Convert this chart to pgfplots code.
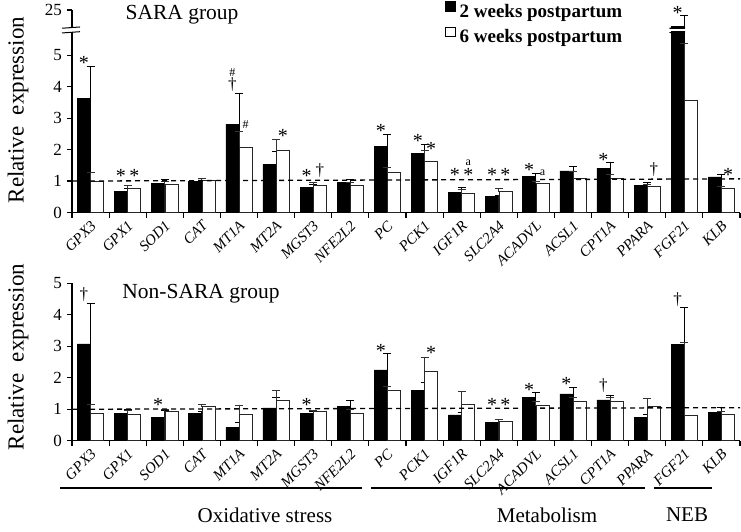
\documentclass[border=0pt]{standalone}
\usepackage{fontspec}
\setmainfont{Liberation Serif}
\usepackage{pgfplots}
\usepackage{pgfplotstable}
\pgfplotsset{compat=1.18}

% display values (top panel: above the break, 6.44 is drawn as 25)
\pgfplotstableread{
x b be w we
0 3.63 1.02 0.98 0.29
1 0.66 0.10 0.77 0.09
2 0.93 0.12 0.90 0.08
3 0.98 0.09 1.02 0.06
4 2.81 0.98 2.07 0.50
5 1.53 0.40 1.97 0.36
6 0.80 0.10 0.87 0.08
7 0.97 0.09 0.87 0.10
8 2.09 0.40 1.26 0.18
9 1.88 0.29 1.64 0.32
10 0.64 0.15 0.60 0.13
11 0.50 0.05 0.66 0.10
12 1.16 0.09 0.93 0.05
13 1.32 0.16 1.07 0.23
14 1.41 0.17 1.09 0.13
15 0.87 0.09 0.83 0.06
16 5.93 0.33 3.57 1.81
17 1.13 0.08 0.76 0.08
}\topdata

\pgfplotstableread{
x b be w we
0 3.08 1.29 0.87 0.27
1 0.87 0.13 0.85 0.12
2 0.73 0.23 0.93 0.08
3 0.86 0.07 1.08 0.08
4 0.42 0.15 0.84 0.27
5 1.04 0.34 1.28 0.31
6 0.87 0.05 0.92 0.05
7 1.08 0.19 0.87 0.13
8 2.25 0.51 1.59 0.13
9 1.59 0.26 2.21 0.45
10 0.82 0.08 1.16 0.40
11 0.59 0.09 0.60 0.07
12 1.38 0.16 1.11 0.13
13 1.49 0.21 1.26 0.12
14 1.30 0.15 1.26 0.12
15 0.73 0.11 1.08 0.27
16 3.06 1.18 0.79 2.33
17 0.91 0.15 0.84 0.10
}\botdata

\pgfplotsset{
  base/.style={
    scale only axis, width=668pt,
    xmin=-0.5, xmax=17.5, ymin=0,
    axis lines*=left,
    axis line style={line width=1.3pt},
    clip=false,
    xtick={0,...,17},
    xticklabels={GPX3,GPX1,SOD1,CAT,MT1A,MT2A,MGST3,NFE2L2,PC,PCK1,IGF1R,SLC2A4,ACADVL,ACSL1,CPT1A,PPARA,FGF21,KLB},
    xticklabel style={font=\itshape\fontsize{15}{15}\selectfont, rotate=45, anchor=north east, inner sep=1pt, xshift=-1pt},
    major x tick style={draw=none},
    minor xtick={-0.5,0.5,...,17.5},
    minor x tick style={line width=1.2pt, black},
    minor tick length=5pt,
    major tick length=5pt,
    tick align=outside,
    ytick style={line width=1.2pt, black},
    yticklabel style={font=\fontsize{17}{17}\selectfont, inner sep=2pt, xshift=-3pt},
    /pgf/number format/assume math mode=true,
  },
  bk/.style={ybar, bar width=0.35, bar shift=-0.18, fill=black, draw=black, line width=0.6pt, forget plot,
    error bars/.cd, y dir=plus, y explicit, error bar style={line width=0.8pt, black}, error mark options={rotate=90, mark size=4pt, line width=0.8pt, black}},
  wh/.style={ybar, bar width=0.35, bar shift=0.18, fill=white, draw=black!85, line width=0.8pt, forget plot,
    error bars/.cd, y dir=plus, y explicit, error bar style={line width=0.8pt, black!80}, error mark options={rotate=90, mark size=4pt, line width=0.8pt, black!80}},
}
\tikzset{ann/.style={font=\fontsize{17}{17}\selectfont, inner sep=0pt},
  st/.style={font=\fontsize{20}{20}\selectfont, inner sep=0pt, yshift=-3.5pt},
  sm/.style={font=\fontsize{12}{12}\selectfont, inner sep=0pt}}

\begin{document}
\begin{tikzpicture}
\path[use as bounding box] (0pt,0pt) rectangle (741pt,-532pt);

% ---------- top panel ----------
\begin{axis}[base, at={(72pt,-212.5pt)}, anchor=south west,
  height=202.5pt, ymax=6.44,
  ytick={0,1,2,3,4,5,6.44}, yticklabels={0,1,2,3,4,5,25},
  legend style={at={(axis description cs:0.5584,1.074)}, anchor=north west, draw=none, fill=none,
    font=\bfseries\fontsize{19}{21}\selectfont, inner sep=0pt, row sep=0pt},
  legend cell align=left]
\addlegendimage{legend image code/.code={\fill[black] (0pt,-3.5pt) rectangle (10pt,6.5pt);}}
\addlegendentry{\rule[-7pt]{0pt}{27pt}\hspace{2pt}2 weeks postpartum}
\addlegendimage{legend image code/.code={\draw[black, line width=0.8pt, fill=white] (0.4pt,-3.1pt) rectangle (9.6pt,6.1pt);}}
\addlegendentry{\rule[-7pt]{0pt}{27pt}\hspace{2pt}6 weeks postpartum}
\addplot[bk] table[x=x, y=b, y error=be] {\topdata};
\addplot[wh] table[x=x, y=w, y error=we] {\topdata};
\draw[line width=1.3pt, dash pattern=on 5pt off 4pt] (axis cs:-0.5,1.0) -- (axis cs:17.5,1.07);
% axis break on the y axis
\fill[white] ([xshift=-4pt]axis cs:-0.5,5.75) rectangle ([xshift=4pt]axis cs:-0.5,5.86);
\draw[line width=1pt] ([xshift=-10pt]axis cs:-0.5,5.71) -- ([xshift=8pt]axis cs:-0.5,5.75);
\draw[line width=1pt] ([xshift=-10pt]axis cs:-0.5,5.86) -- ([xshift=8pt]axis cs:-0.5,5.90);
% break on the FGF21 bar
\fill[white] (axis cs:15.6,5.76) rectangle (axis cs:16.02,5.85);
\draw[line width=1.2pt] (axis cs:15.6,5.72) -- (axis cs:16.02,5.74);
\draw[line width=1.2pt] (axis cs:15.6,5.86) -- (axis cs:16.02,5.88);
% annotations
\node[st] at (axis cs:-0.18,4.86) {*};
\node[st] at (axis cs:0.82,1.27) {*};
\node[st] at (axis cs:1.18,1.27) {*};
\node[ann] at (axis cs:3.82,4.06) {†};
\node[sm] at (axis cs:3.82,4.44) {\#};
\node[sm] at (axis cs:4.18,2.8) {\#};
\node[st] at (axis cs:5.18,2.54) {*};
\node[st] at (axis cs:5.82,1.27) {*};
\node[ann] at (axis cs:6.18,1.33) {†};
\node[st] at (axis cs:7.82,2.7) {*};
\node[st] at (axis cs:8.82,2.38) {*};
\node[st] at (axis cs:9.18,2.13) {*};
\node[st] at (axis cs:9.82,1.3) {*};
\node[st] at (axis cs:10.18,1.3) {*};
\node[sm] at (axis cs:10.18,1.58) {a};
\node[st] at (axis cs:10.82,1.3) {*};
\node[st] at (axis cs:11.18,1.3) {*};
\node[st] at (axis cs:11.82,1.45) {*};
\node[sm] at (axis cs:12.18,1.27) {a};
\node[st] at (axis cs:13.82,1.78) {*};
\node[ann] at (axis cs:15.18,1.37) {†};
\node[st] at (axis cs:15.82,6.46) {*};
\node[st] at (axis cs:17.18,1.3) {*};
\end{axis}

% ---------- bottom panel ----------
\begin{axis}[base, at={(72pt,-440.7pt)}, anchor=south west,
  height=157.3pt, ymax=5, ytick={0,1,2,3,4,5}]
\addplot[bk] table[x=x, y=b, y error=be] {\botdata};
\addplot[wh] table[x=x, y=w, y error=we] {\botdata};
\draw[line width=1.3pt, dash pattern=on 5pt off 4pt] (axis cs:-0.5,1.0) -- (axis cs:17.5,1.05);
\node[ann] at (axis cs:-0.18,4.63) {†};
\node[st] at (axis cs:1.82,1.24) {*};
\node[st] at (axis cs:5.82,1.24) {*};
\node[st] at (axis cs:7.82,2.98) {*};
\node[st] at (axis cs:9.18,2.91) {*};
\node[st] at (axis cs:10.82,1.24) {*};
\node[st] at (axis cs:11.18,1.24) {*};
\node[st] at (axis cs:11.82,1.74) {*};
\node[st] at (axis cs:12.82,1.93) {*};
\node[ann] at (axis cs:13.82,1.74) {†};
\node[ann] at (axis cs:15.82,4.49) {†};
\end{axis}

% titles and labels
\node[anchor=base, font=\fontsize{21.5}{22}\selectfont] at (182pt,-20pt) {SARA group};
\node[anchor=base, font=\fontsize{21.5}{22}\selectfont] at (201pt,-298pt) {Non-SARA group};
\node[rotate=90, font=\fontsize{23}{23}\selectfont] at (18pt,-110pt) {Relative\ \ expression};
\node[rotate=90, font=\fontsize{23}{23}\selectfont] at (18pt,-357pt) {Relative\ \ expression};

% groups
\draw[line width=2.5pt] (60pt,-488pt) -- (362pt,-488pt);
\draw[line width=2.5pt] (371pt,-488pt) -- (645pt,-488pt);
\draw[line width=2.5pt] (654pt,-488pt) -- (712pt,-488pt);
\node[font=\fontsize{21}{21}\selectfont] at (265pt,-515pt) {Oxidative stress};
\node[font=\fontsize{21}{21}\selectfont] at (547pt,-515pt) {Metabolism};
\node[font=\fontsize{21}{21}\selectfont] at (687pt,-515pt) {NEB};
\end{tikzpicture}
\end{document}
